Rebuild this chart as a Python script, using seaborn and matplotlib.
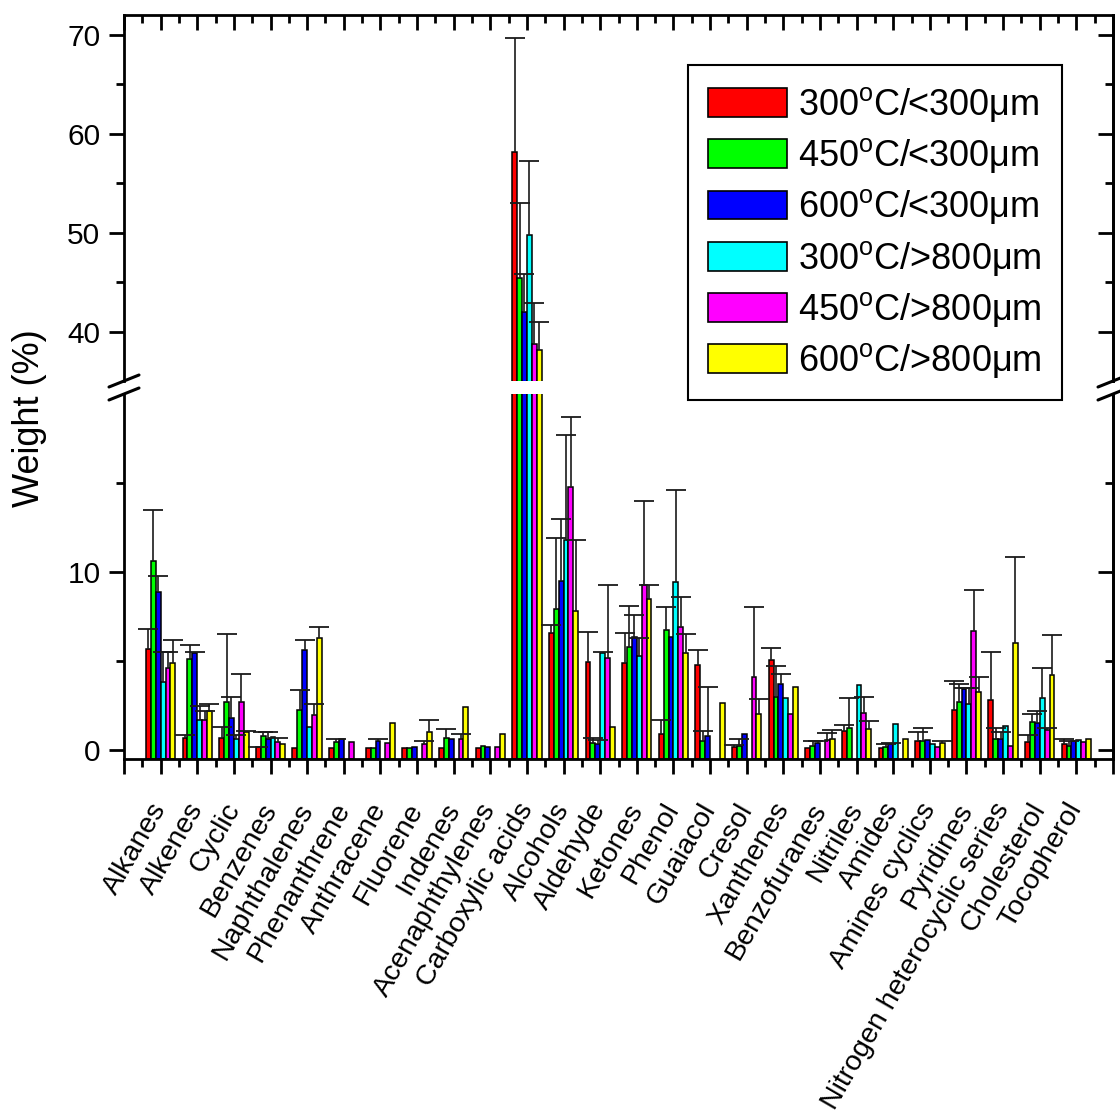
import numpy as np
import pandas as pd
import seaborn as sns
import matplotlib
matplotlib.use("Agg")
import matplotlib.pyplot as plt
from matplotlib.patches import Patch
from matplotlib.lines import Line2D

nan = np.nan

categories = ["Alkanes", "Alkenes", "Cyclic", "Benzenes", "Naphthalenes", "Phenanthrene",
              "Anthracene", "Fluorene", "Indenes", "Acenaphthylenes", "Carboxylic acids",
              "Alcohols", "Aldehyde", "Ketones", "Phenol", "Guaiacol", "Cresol", "Xanthenes",
              "Benzofuranes", "Nitriles", "Amides", "Amines cyclics", "Pyridines",
              "Nitrogen heterocyclic series", "Cholesterol", "Tocopherol"]

conditions = ["300C/<300um", "450C/<300um", "600C/<300um",
              "300C/>800um", "450C/>800um", "600C/>800um"]
legend_labels = ["300$^\\mathregular{o}$C/<300μm", "450$^\\mathregular{o}$C/<300μm",
                 "600$^\\mathregular{o}$C/<300μm", "300$^\\mathregular{o}$C/>800μm",
                 "450$^\\mathregular{o}$C/>800μm", "600$^\\mathregular{o}$C/>800μm"]
colors = ["#ff0000", "#00ff00", "#0000ff", "#00ffff", "#ff00ff", "#ffff00"]

# mean weight (%) per condition, and upper error
t300_fine = [5.7, 0.7, 0.7, 0.15, 0.1, 0.1, 0.1, 0.1, 0.1, 0.1, 58.2, 6.6, 4.95, 4.9, 0.9, 4.8,
             0.15, 5.05, 0.1, 1.1, 0.1, 0.5, 2.25, 2.8, 0.45, 0.35]
t300_fine_err = [1.1, 0.15, 0.6, 0.05, nan, nan, nan, nan, nan, nan, 11.5, 0.4, 1.7, 1.7, 0.8, 0.8,
                 0.15, 0.7, nan, 0.3, nan, 0.5, 1.65, 2.7, 0.4, 0.3]
t450_fine = [10.6, 5.1, 2.7, 0.8, 2.25, 0.45, 0.1, 0.1, 0.7, 0.25, 45.4, 7.9, 0.4, 5.8, 6.75, 0.5,
             0.25, 3.0, 0.25, 1.25, 0.2, 0.5, 2.7, 0.65, 1.6, 0.25]
t450_fine_err = [2.9, 0.8, 3.8, 0.2, 1.15, 0.15, nan, nan, 0.5, nan, 7.6, 4.0, 0.3, 2.3, 1.3, 0.6,
                 0.4, 1.7, 0.25, 1.65, 0.15, 0.75, 1.0, 0.6, 0.4, 0.25]
t600_fine = [8.9, 5.45, 1.8, 0.6, 5.6, 0.65, 0.5, 0.2, 0.6, 0.2, 42.0, 9.5, 0.35, 6.35, 6.35, 0.8,
             0.9, 3.7, 0.4, nan, 0.35, 0.55, 3.45, 0.65, 1.5, 0.5]
t600_fine_err = [0.9, 0.05, 1.2, 0.4, 0.6, nan, 0.1, nan, nan, nan, 3.8, 3.5, 0.2, 1.25, nan, 2.75,
                 nan, 0.6, 0.1, nan, 0.05, nan, 0.05, 0.35, 0.7, nan]
t300_coarse = [3.8, 1.7, 0.65, 0.75, 1.3, nan, nan, nan, nan, nan, 49.8, 11.8, 5.45, 5.3, 9.45, nan,
               nan, 2.9, nan, 3.65, 1.45, 0.35, 2.6, 1.35, 2.95, 0.55]
t300_coarse_err = [1.7, 0.8, 0.2, nan, nan, nan, nan, nan, nan, nan, 7.4, 5.9, 0.05, 1.0, 5.15, nan,
                   nan, nan, nan, nan, nan, nan, 0.9, nan, 1.65, nan]
t450_coarse = [4.6, 1.7, 2.7, 0.45, 1.95, 0.45, 0.4, 0.35, 0.65, 0.15, 38.7, 14.8, 5.2, 9.3, 6.9, nan,
               4.1, 2.0, 0.55, 2.1, nan, 0.15, 6.7, 0.25, 1.15, 0.45]
t450_coarse_err = [0.9, 0.5, 1.6, 0.25, 0.65, nan, nan, 0.15, 0.25, nan, 4.2, 3.9, 4.1, 4.7, 1.7, nan,
                   3.95, nan, 0.4, 0.9, nan, nan, 2.3, nan, 0.1, nan]
t600_coarse = [4.9, 2.2, 1.0, 0.35, 6.3, nan, 1.5, 1.0, 2.4, 0.9, 38.1, 7.8, 1.3, 8.5, 5.45, 2.65,
               2.05, 3.55, 0.65, 1.2, 0.65, 0.4, 3.25, 6.0, 4.2, 0.65]
t600_coarse_err = [1.3, 0.4, 0.1, nan, 0.6, nan, nan, 0.7, nan, nan, 2.9, 4.0, nan, 0.75, 1.05, nan,
                   0.8, nan, 0.5, 0.45, nan, 0.1, 0.85, 4.85, 2.25, nan]

series = [t300_fine, t450_fine, t600_fine, t300_coarse, t450_coarse, t600_coarse]
errors = [t300_fine_err, t450_fine_err, t600_fine_err, t300_coarse_err, t450_coarse_err, t600_coarse_err]

rows = []
for cond, vals in zip(conditions, series):
    for cat, v in zip(categories, vals):
        rows.append({"category": cat, "condition": cond, "weight": v})
df = pd.DataFrame(rows).dropna(subset=["weight"])

sns.set_theme(style="ticks")
plt.rcParams['font.family'] = ['Liberation Sans', 'DejaVu Sans']
plt.rcParams['mathtext.fontset'] = 'custom'
plt.rcParams['mathtext.rm'] = 'Liberation Sans'
for k in ("text.color", "axes.labelcolor", "xtick.color", "ytick.color", "axes.edgecolor"):
    plt.rcParams[k] = "black"

floor = -0.5  # bars start from the bottom of the axis, like Origin does
W = 1120.0
fig = plt.figure(figsize=(11.2, 11.2), dpi=100)
ax_top = fig.add_axes([124 / W, 1 - 381 / W, 989 / W, 366 / W])
ax_bot = fig.add_axes([124 / W, 1 - 759 / W, 989 / W, 365 / W])

n = len(conditions)
bw = 0.8 / n
offsets = [-0.4 + bw * (j + 0.5) for j in range(n)]
xs = np.arange(len(categories))

for ax in (ax_top, ax_bot):
    sns.barplot(data=df, x="category", y="weight", hue="condition", order=categories,
                hue_order=conditions, palette=colors, saturation=1, edgecolor="black",
                linewidth=1.1, errorbar=None, legend=False, width=0.8, ax=ax)
    for p in ax.patches:
        p.set_height(p.get_height() - floor)
        p.set_y(floor)
    for j in range(n):
        v = np.array(series[j], dtype=float)
        e = np.array(errors[j], dtype=float)
        m = ~np.isnan(e) & ~np.isnan(v)
        x = xs[m] + offsets[j]
        ax.vlines(x, v[m], v[m] + e[m], color="#1a1a1a", lw=1.2, zorder=4)
        ax.plot(x, v[m] + e[m], ls="none", marker="_", ms=14, mew=1.3, color="#1a1a1a", zorder=4)
    ax.set_xlim(-1, 26)
    ax.set_xlabel("")
    ax.set_ylabel("")
    for s in ax.spines.values():
        s.set_linewidth(2)
    ax.set_xticks(np.arange(-1, 27))
    ax.set_xticks(np.arange(-0.5, 26, 1), minor=True)

# upper part
ax_top.set_ylim(35, 72)
ax_top.set_yticks([40, 50, 60, 70])
ax_top.set_yticks([45, 55, 65], minor=True)
ax_top.spines["bottom"].set_visible(False)
ax_top.tick_params(axis="x", which="both", bottom=False, top=True, labelbottom=False,
                   direction="in", width=2)
ax_top.tick_params(axis="x", which="major", length=11)
ax_top.tick_params(axis="x", which="minor", length=6)

# lower part
ax_bot.set_ylim(floor, 20)
ax_bot.set_yticks([0, 10])
ax_bot.set_yticks([5, 15], minor=True)
ax_bot.spines["top"].set_visible(False)
ax_bot.set_xticklabels([""] + categories + [""], rotation=60, ha="right", va="center",
                       rotation_mode="anchor", fontsize=20.5)
ax_bot.tick_params(axis="x", which="both", bottom=True, top=False, direction="out", width=2)
ax_bot.tick_params(axis="x", which="major", length=11, pad=22)
ax_bot.tick_params(axis="x", which="minor", length=6)

for ax in (ax_top, ax_bot):
    ax.tick_params(axis="y", which="both", left=True, right=False, direction="out",
                   width=2, labelsize=21.5)
    ax.tick_params(axis="y", which="major", length=11, pad=6)
    ax.tick_params(axis="y", which="minor", length=6)
    sec = ax.secondary_yaxis("right")
    sec.set_yticks(ax.get_yticks())
    sec.set_yticks(ax.get_yticks(minor=True), minor=True)
    sec.tick_params(axis="y", which="both", direction="in", width=2, labelright=False)
    sec.tick_params(axis="y", which="major", length=11)
    sec.tick_params(axis="y", which="minor", length=6)
    sec.spines["right"].set_linewidth(2)

# axis break marks
for xp in (124, 1113):
    for yp in (381, 394):
        fig.add_artist(Line2D([(xp - 15) / W, (xp + 15) / W],
                              [1 - (yp + 6) / W, 1 - (yp - 6) / W],
                              color="black", lw=2.2, transform=fig.transFigure))

fig.text(30 / W, 1 - 418 / W, "Weight (%)", rotation=90, ha="center", va="center", fontsize=26)

handles = [Patch(facecolor=c, edgecolor="black", linewidth=1.2) for c in colors]
leg = fig.legend(handles, legend_labels, loc="upper left", bbox_to_anchor=(688 / W, 1 - 65 / W),
                 fontsize=26, frameon=True, fancybox=False, framealpha=1, edgecolor="black",
                 handlelength=2.2, handleheight=0.85, handletextpad=0.3, labelspacing=0.34,
                 borderpad=0.55, borderaxespad=0)
leg.get_frame().set_linewidth(1.5)

fig.savefig("out.png", dpi=100)
